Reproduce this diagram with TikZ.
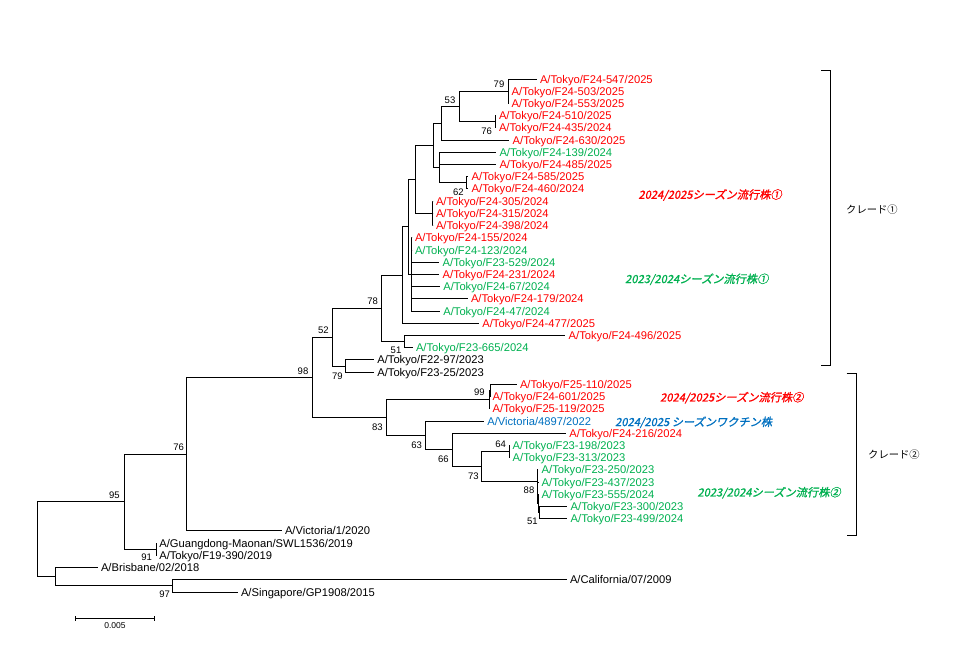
\documentclass[tikz,border=0pt]{standalone}
\usepackage{fontspec}
\setmainfont{Liberation Sans}
\newfontfamily\jp{Noto Sans CJK JP}
\newfontfamily\jpbi[FakeSlant=0.2,FakeBold=1.2]{Noto Sans CJK JP}
\definecolor{tred}{RGB}{255,0,0}
\definecolor{tgreen}{RGB}{0,176,80}
\definecolor{tblue}{RGB}{0,112,192}
\tikzset{
  leaf/.style={anchor=west,inner xsep=3.5pt,inner ysep=0pt,outer sep=0pt,
    text height=8pt,text depth=0pt,font=\fontsize{11.2}{13}\selectfont},
  bs/.style={inner sep=0pt,font=\fontsize{9.5}{11}\selectfont},
  br/.style={line width=0.9pt,black},
  jplab/.style={anchor=west,inner sep=0pt,font=\jpbi\fontsize{11.2}{13}\selectfont},
  cladelab/.style={anchor=west,inner sep=0pt,font=\jp\fontsize{10.3}{12}\selectfont}
}
% name, row index, label start x, colour, text, parent
\newcommand{\leafrow}[6]{%
  \node[leaf,text=#4] (#1) at ({#3-3.5},{79+12.214*(#2-1)}) {#5};
  \draw[br] (#6) |- (#1.west);}
\begin{document}
\begin{tikzpicture}[x=1pt,y=-1pt]
\useasboundingbox (0,0) rectangle (960,670);
% internal nodes
\coordinate (root) at (37.3,539.2);
\coordinate (N95) at (124,501.7);
\coordinate (N76b) at (186.7,454.1);
\coordinate (N91) at (156.7,549.25);
\coordinate (Nr) at (55,576.75);
\coordinate (N97) at (172.3,585.9);
\coordinate (N98) at (312.3,377.35);
\coordinate (N52) at (332.7,337.2);
\coordinate (N79b) at (345,366);
\coordinate (N78) at (381.7,308.35);
\coordinate (Nf) at (402.7,275.1);
\coordinate (N51) at (404.3,341.6);
\coordinate (Ng) at (408.3,226.9);
\coordinate (Nh) at (411.7,274.45);
\coordinate (Nd) at (415.3,179.4);
\coordinate (Nb) at (433.3,145.4);
\coordinate (Ne) at (432.7,213.35);
\coordinate (Na) at (441.7,123.3);
\coordinate (Nc) at (439,167.55);
\coordinate (N62) at (466.7,182.8);
\coordinate (N53) at (459.3,106.5);
\coordinate (N79) at (508,91.2);
\coordinate (N76) at (495,121.75);
\coordinate (N83) at (386,417.5);
\coordinate (N99) at (489.3,399.65);
\coordinate (Nq) at (490.3,390.5);
\coordinate (N63) at (425,435.4);
\coordinate (N66) at (452.7,449.8);
\coordinate (N73) at (481,466.4);
\coordinate (N64) at (509.3,451.5);
\coordinate (N88) at (537,481.3);
\coordinate (Nz) at (537.6,492.8);
\coordinate (Np) at (538.2,503.45);
\coordinate (N51b) at (539,512.6);
% internal edges
\foreach \p/\c in {root/N95,root/Nr,N95/N76b,N95/N91,N76b/N98,Nr/N97,
  N98/N52,N98/N83,N52/N78,N52/N79b,N78/Nf,N78/N51,Nf/Ng,Ng/Nd,Ng/Nh,
  Nd/Nb,Nd/Ne,Nb/Na,Nb/Nc,Na/N53,N53/N79,N53/N76,Nc/N62,
  N83/N99,N99/Nq,N83/N63,N63/N66,N66/N73,N73/N64,N73/N88,N88/Nz,Nz/Np,Np/N51b}
  {\draw[br] (\p) |- (\c);}
% leaves
\leafrow{l547}{1}{540}{tred}{A/Tokyo/F24-547/2025}{N79}
\leafrow{l503}{2}{511.7}{tred}{A/Tokyo/F24-503/2025}{N79}
\leafrow{l553}{3}{511.7}{tred}{A/Tokyo/F24-553/2025}{N79}
\leafrow{l510}{4}{499}{tred}{A/Tokyo/F24-510/2025}{N76}
\leafrow{l435}{5}{499}{tred}{A/Tokyo/F24-435/2024}{N76}
\leafrow{l630}{6}{512.7}{tred}{A/Tokyo/F24-630/2025}{Na}
\leafrow{l139}{7}{499.5}{tgreen}{A/Tokyo/F24-139/2024}{Nc}
\leafrow{l485}{8}{499.5}{tred}{A/Tokyo/F24-485/2025}{Nc}
\leafrow{l585}{9}{471.7}{tred}{A/Tokyo/F24-585/2025}{N62}
\leafrow{l460}{10}{471.7}{tred}{A/Tokyo/F24-460/2024}{N62}
\leafrow{l305}{11}{436}{tred}{A/Tokyo/F24-305/2024}{Ne}
\leafrow{l315}{12}{436}{tred}{A/Tokyo/F24-315/2024}{Ne}
\leafrow{l398}{13}{436}{tred}{A/Tokyo/F24-398/2024}{Ne}
\leafrow{l155}{14}{415}{tred}{A/Tokyo/F24-155/2024}{Nh}
\leafrow{l123}{15}{415}{tgreen}{A/Tokyo/F24-123/2024}{Nh}
\leafrow{l529}{16}{442.7}{tgreen}{A/Tokyo/F23-529/2024}{Nh}
\leafrow{l231}{17}{442.7}{tred}{A/Tokyo/F24-231/2024}{Nh}
\leafrow{l67}{18}{443.3}{tgreen}{A/Tokyo/F24-67/2024}{Nh}
\leafrow{l179}{19}{471}{tred}{A/Tokyo/F24-179/2024}{Nh}
\leafrow{l47}{20}{443.3}{tgreen}{A/Tokyo/F24-47/2024}{Nh}
\leafrow{l477}{21}{482.3}{tred}{A/Tokyo/F24-477/2025}{Nf}
\leafrow{l496}{22}{568.7}{tred}{A/Tokyo/F24-496/2025}{N51}
\leafrow{l665}{23}{416}{tgreen}{A/Tokyo/F23-665/2024}{N51}
\leafrow{l2297}{24}{377.3}{black}{A/Tokyo/F22-97/2023}{N79b}
\leafrow{l2325}{25}{377.3}{black}{A/Tokyo/F23-25/2023}{N79b}
\leafrow{l110}{26}{520}{tred}{A/Tokyo/F25-110/2025}{Nq}
\leafrow{l601}{27}{492.7}{tred}{A/Tokyo/F24-601/2025}{Nq}
\leafrow{l119}{28}{492.7}{tred}{A/Tokyo/F25-119/2025}{N99}
\leafrow{lvic}{29}{487.3}{tblue}{A/Victoria/4897/2022}{N63}
\leafrow{l216}{30}{569.3}{tred}{A/Tokyo/F24-216/2024}{N66}
\leafrow{l198}{31}{512.7}{tgreen}{A/Tokyo/F23-198/2023}{N64}
\leafrow{l313}{32}{512.7}{tgreen}{A/Tokyo/F23-313/2023}{N64}
\leafrow{l250}{33}{541.7}{tgreen}{A/Tokyo/F23-250/2023}{N88}
\leafrow{l437}{34}{541.7}{tgreen}{A/Tokyo/F23-437/2023}{Nz}
\leafrow{l555}{35}{541.7}{tgreen}{A/Tokyo/F23-555/2024}{Np}
\leafrow{l300}{36}{570.7}{tgreen}{A/Tokyo/F23-300/2023}{N51b}
\leafrow{l499}{37}{570.7}{tgreen}{A/Tokyo/F23-499/2024}{N51b}
\leafrow{lvicb}{38}{285}{black}{A/Victoria/1/2020}{N76b}
\leafrow{lgd}{39}{159.3}{black}{A/Guangdong-Maonan/SWL1536/2019}{N91}
\leafrow{l19}{40}{159.3}{black}{A/Tokyo/F19-390/2019}{N91}
\leafrow{lbr}{41}{101}{black}{A/Brisbane/02/2018}{Nr}
\leafrow{lca}{42}{570}{black}{A/California/07/2009}{N97}
\leafrow{lsg}{43}{241}{black}{A/Singapore/GP1908/2015}{N97}
% bootstrap values
\node[bs] (b79) at (499,84.3) {79};
\node[bs] (b53) at (450,100) {53};
\node[bs] (b76) at (486.7,131.7) {76};
\node[bs] (b62) at (458.3,192.7) {62};
\node[bs] (b78) at (372.7,301.7) {78};
\node[bs] (b52) at (323.3,330.7) {52};
\node[bs] (b51) at (396,350.7) {51};
\node[bs] (b79b) at (337.3,376.7) {79};
\node[bs] (b98) at (303,371) {98};
\node[bs] (b99) at (479.3,392.7) {99};
\node[bs] (b83) at (377.3,427.3) {83};
\node[bs] (b63) at (416.7,445) {63};
\node[bs] (b66) at (443.3,459.3) {66};
\node[bs] (b64) at (500.7,444) {64};
\node[bs] (b73) at (473.3,476) {73};
\node[bs] (b88) at (529,490.7) {88};
\node[bs] (b51b) at (532.3,521.7) {51};
\node[bs] (b76b) at (178.7,447.7) {76};
\node[bs] (b95) at (114.3,495) {95};
\node[bs] (b91) at (146.7,557.3) {91};
\node[bs] (b97) at (164.7,594) {97};
% scale bar
\coordinate (sbL) at (75,618.3);
\coordinate (sbR) at (154.3,618.3);
\draw[br] (sbL) -- (sbR);
\draw[br] ([yshift=-2.5pt]sbL) -- ([yshift=2.5pt]sbL);
\draw[br] ([yshift=-2.5pt]sbR) -- ([yshift=2.5pt]sbR);
\node[inner sep=0pt,font=\fontsize{8.5}{10}\selectfont] (sblab) at (115,626) {0.005};
% group labels
\node[jplab,text=tred] (g1) at (638.3,195) {2024/2025シーズン流行株①};
\node[jplab,text=tgreen] (g2) at (625,279.3) {2023/2024シーズン流行株①};
\node[jplab,text=tred] (g3) at (660,397.7) {2024/2025シーズン流行株②};
\node[jplab,text=tblue] (g4) at (615,422.3) {2024/2025 シーズンワクチン株};
\node[jplab,text=tgreen] (g5) at (697.3,492.7) {2023/2024シーズン流行株②};
% clade brackets
\coordinate (c1a) at (821,70);
\coordinate (c1b) at (830.3,70);
\coordinate (c1c) at (830.3,365.7);
\coordinate (c1d) at (821,365.7);
\draw[br] (c1a) -- (c1b) -- (c1c) -- (c1d);
\coordinate (c2a) at (846.7,373.3);
\coordinate (c2b) at (856.3,373.3);
\coordinate (c2c) at (856.3,535.7);
\coordinate (c2d) at (846.7,535.7);
\draw[br] (c2a) -- (c2b) -- (c2c) -- (c2d);
\node[cladelab] (k1) at (846,210) {クレード①};
\node[cladelab] (k2) at (868,455) {クレード②};
\end{tikzpicture}
\end{document}
